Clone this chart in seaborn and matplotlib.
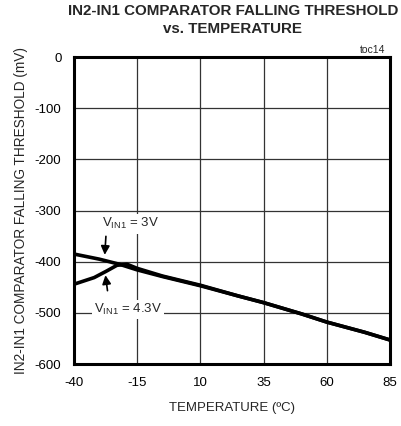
import numpy as np
import pandas as pd
import matplotlib
matplotlib.use("Agg")
import matplotlib.pyplot as plt
import seaborn as sns

# --- data ---
temp_3v = [-40, -30, -22, -15, -5, 10, 25, 35, 50, 60, 75, 85]
thr_3v = [-385, -395, -405, -416, -429, -447, -467, -480, -502, -518, -538, -553]

temp_43v = [-40, -32, -27, -23, -19, -15, -5, 10, 25, 35, 50, 60, 75, 85]
thr_43v = [-444, -431, -418, -407, -405, -413, -428, -446, -467, -480, -502, -518, -538, -553]

x_ticks = [-40, -15, 10, 35, 60, 85]
y_ticks = [0, -100, -200, -300, -400, -500, -600]

df = pd.concat([
    pd.DataFrame({"temp": temp_3v, "thr": thr_3v, "vin": "3V"}),
    pd.DataFrame({"temp": temp_43v, "thr": thr_43v, "vin": "4.3V"}),
])

sns.set_style("white")
plt.rcParams["font.family"] = ["Liberation Sans", "DejaVu Sans"]
plt.rcParams["axes.unicode_minus"] = False
plt.rcParams["mathtext.fontset"] = "custom"
plt.rcParams["mathtext.rm"] = "Liberation Sans"

fig = plt.figure(figsize=(4.01, 4.26), dpi=100)
ax = fig.add_axes([0.1845, 0.1455, 0.788, 0.7205])

sns.lineplot(data=df, x="temp", y="thr", units="vin", estimator=None,
             color="black", lw=2.6, ax=ax, legend=False, sort=False)

ax.set_xlim(-40, 85)
ax.set_ylim(-600, 0)
ax.set_xticks(x_ticks)
ax.set_yticks(y_ticks)
ax.grid(True, color="#333333", lw=0.9)
ax.set_axisbelow(True)
for s in ax.spines.values():
    s.set_color("black")
    s.set_linewidth(2.2)
ax.tick_params(length=0, labelsize=9.5, pad=9, colors="black")

ax.set_xlabel("TEMPERATURE (ºC)", fontsize=9.5, labelpad=10)
ax.set_ylabel("IN2-IN1 COMPARATOR FALLING THRESHOLD (mV)", fontsize=9.8, labelpad=5)

fig.text(0.581, 0.99, "IN2-IN1 COMPARATOR FALLING THRESHOLD\nvs. TEMPERATURE",
         ha="center", va="top", fontsize=10.9, fontweight="bold", linespacing=1.3)
ax.text(0.985, 1.008, "toc14", transform=ax.transAxes, ha="right", va="bottom", fontsize=7.5)

# annotations
box = dict(facecolor="white", edgecolor="none", pad=1.5)
ax.annotate("", xy=(-27.9, -392), xytext=(-27.3, -345),
            arrowprops=dict(arrowstyle="-|>", color="black", lw=1.2, mutation_scale=13))
ax.text(-29, -326, "V$_{\\mathregular{IN1}}$ = 3V", fontsize=9.5, va="center", bbox=box)
ax.annotate("", xy=(-27.7, -421), xytext=(-26.6, -462),
            arrowprops=dict(arrowstyle="-|>", color="black", lw=1.2, mutation_scale=13))
ax.text(-32, -493, "V$_{\\mathregular{IN1}}$ = 4.3V", fontsize=9.5, va="center", bbox=box)

fig.savefig("out.png", dpi=100)
